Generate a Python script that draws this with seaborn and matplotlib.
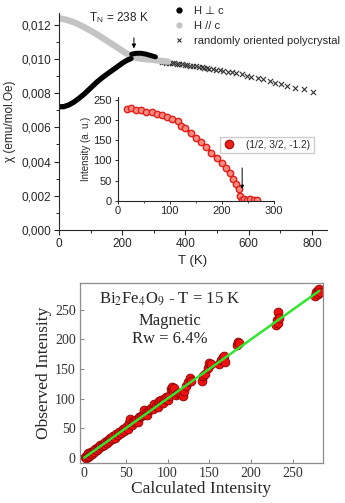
import numpy as np
import pandas as pd
import seaborn as sns
import matplotlib.pyplot as plt
from matplotlib.lines import Line2D
from matplotlib.ticker import MultipleLocator, FuncFormatter

# ---- susceptibility data (chi in 1e-3 emu/mol.Oe) ----
T_par = [0, 25, 50, 75, 100, 125, 150, 175, 200, 225, 250, 275, 300, 325, 345]
chi_par = [12.38, 12.28, 12.12, 11.90, 11.65, 11.38, 11.08, 10.78, 10.48, 10.18,
           10.04, 9.98, 9.94, 9.88, 9.84]

T_perp_lo = [0, 15, 30, 45, 60, 80, 100, 120, 140, 160, 180, 200, 215, 228]
chi_perp_lo = [7.20, 7.21, 7.30, 7.45, 7.65, 7.95, 8.30, 8.65, 8.95, 9.22, 9.48,
               9.75, 9.92, 10.02]
T_perp_hi = [230, 245, 260, 275, 290, 305]
chi_perp_hi = [10.28, 10.33, 10.33, 10.28, 10.20, 10.12]

T_poly = [325, 332, 340, 348, 356, 364, 372, 380, 390, 398, 406, 414, 424, 434,
          444, 452, 460, 468, 476, 486, 496, 508, 520, 536, 548, 560, 580, 594,
          608, 630, 646, 666, 684, 702, 722, 748, 774, 804]
chi_poly = [9.82, 9.80, 9.79, 9.78, 9.76, 9.74, 9.72, 9.70, 9.68, 9.66, 9.64,
            9.61, 9.58, 9.56, 9.53, 9.50, 9.48, 9.46, 9.44, 9.41, 9.38, 9.35,
            9.31, 9.26, 9.22, 9.17, 9.09, 9.02, 8.96, 8.88, 8.80, 8.70, 8.60,
            8.52, 8.43, 8.32, 8.22, 8.08]

# ---- inset: magnetic peak intensity ----
T_peak = [18, 25, 35, 45, 55, 65, 75, 85, 95, 105, 115, 122, 130, 140, 150, 160,
          170, 180, 190, 200, 208, 215, 222, 228, 232, 235, 238, 242, 248, 255,
          262, 268]
I_peak = [228, 229, 226, 224, 221, 219, 216, 212, 208, 203, 197, 185, 180, 167,
          155, 145, 133, 119, 106, 93, 80, 68, 55, 42, 28, 12, 2, 3, 2, 4, 2, 1]

# ---- refinement: calculated vs observed ----
I_calc = [1, 2, 3, 4, 5, 6, 7, 8, 9, 10, 12, 13, 15, 16, 18, 19, 21, 22, 24, 25,
          27, 28, 30, 31, 33, 35, 37, 38, 40, 42, 44, 46, 48, 50, 52, 54, 55, 57,
          58, 60, 62, 64, 66, 68, 70, 72, 74, 75, 78, 80, 82, 84, 86, 88, 90, 92,
          94, 96, 98, 100, 102, 104, 105, 106, 108, 110, 113, 116, 118, 120, 122,
          125, 127, 128, 141, 143, 145, 148, 150, 152, 162, 164, 166, 168, 169,
          183, 185, 186, 230, 231, 232, 233, 234, 277, 278, 280, 281, 282, 283]
I_obs = [2, 0, 5, 1, 8, 3, 6, 10, 7, 12, 10, 14, 13, 18, 16, 22, 20, 24, 22, 27,
         25, 30, 28, 33, 31, 36, 34, 40, 38, 43, 41, 48, 45, 52, 49, 58, 66, 56,
         62, 60, 64, 61, 68, 70, 72, 80, 76, 72, 80, 84, 82, 90, 88, 86, 96, 98,
         92, 100, 102, 98, 104, 116, 120, 112, 118, 106, 110, 108, 104, 112, 122,
         128, 134, 130, 130, 138, 142, 152, 160, 158, 158, 166, 170, 172, 162,
         190, 196, 194, 224, 232, 228, 246, 236, 274, 280, 284, 276, 286, 280]
fit_x = [0, 282]
fit_y = [0, 282]

df_par = pd.DataFrame({"T": T_par, "chi": np.array(chi_par) * 1e-3})
df_lo = pd.DataFrame({"T": T_perp_lo, "chi": np.array(chi_perp_lo) * 1e-3})
df_hi = pd.DataFrame({"T": T_perp_hi, "chi": np.array(chi_perp_hi) * 1e-3})
df_poly = pd.DataFrame({"T": T_poly, "chi": np.array(chi_poly) * 1e-3})
df_peak = pd.DataFrame({"T": T_peak, "I": I_peak})
df_ref = pd.DataFrame({"calc": I_calc, "obs": I_obs})

sns.set_style("ticks")
plt.rcParams['font.family'] = ['Liberation Sans', 'DejaVu Sans']
plt.rcParams['mathtext.fontset'] = 'stix'

fig = plt.figure(figsize=(3.45, 5.03), dpi=100)

# ===== top panel =====
ax = fig.add_axes([0.171, 0.5427, 0.777, 0.432])
sns.lineplot(data=df_par, x="T", y="chi", color="#c4c4c4", lw=4.6, ax=ax, sort=False)
sns.lineplot(data=df_lo, x="T", y="chi", color="black", lw=3.8, ax=ax, sort=False)
sns.lineplot(data=df_hi, x="T", y="chi", color="black", lw=3.6, ax=ax, sort=False)
sns.scatterplot(data=df_poly, x="T", y="chi", marker="x", color="#333333", s=14,
                linewidth=0.8, ax=ax)
ax.set_xlim(0, 848)
ax.set_ylim(0, 0.0127)
ax.xaxis.set_major_locator(MultipleLocator(200))
ax.xaxis.set_minor_locator(MultipleLocator(100))
ax.yaxis.set_major_locator(MultipleLocator(0.002))
ax.yaxis.set_minor_locator(MultipleLocator(0.001))
ax.yaxis.set_major_formatter(FuncFormatter(lambda v, p: f"{v:.3f}".replace('.', ',')))
ax.tick_params(direction='out', labelsize=8.5, length=3.5, width=0.8, pad=2)
ax.tick_params(which='minor', direction='out', length=2, width=0.7)
sns.despine(ax=ax)
ax.set_xlabel("T (K)", fontsize=9.5, labelpad=4)
ax.set_ylabel("χ (emu/mol.Oe)", fontsize=8.5, labelpad=4)

ax.annotate("", xy=(237, 0.01045), xytext=(237, 0.0114),
            arrowprops=dict(arrowstyle="-|>", color="black", lw=0.7, mutation_scale=6))
ax.text(190, 0.0124, "T$_{\\mathregular{N}}$ = 238 K", fontsize=8.5, ha="center", va="center")

handles = [Line2D([], [], ls="", marker="o", color="black", markersize=3.5),
           Line2D([], [], ls="", marker="o", color="#c4c4c4", markersize=3.5),
           Line2D([], [], ls="", marker="x", color="#333333", markersize=3.5, mew=0.8)]
labels = ["H ⊥ c", "H // c", "randomly oriented polycrystal"]
leg = ax.legend(handles, labels, loc="upper left", bbox_to_anchor=(0.503, 0.988),
                bbox_transform=fig.transFigure, frameon=False, fontsize=8,
                handlelength=1.0, handletextpad=0.8, labelspacing=0.45,
                borderpad=0, borderaxespad=0)

# ===== inset =====
axi = fig.add_axes([0.341, 0.601, 0.453, 0.206])
axi.patch.set_alpha(0)
sns.lineplot(data=df_peak, x="T", y="I", color="#e8241a", lw=2.2, marker="o",
             markersize=4.6, markerfacecolor="#ff8a80", markeredgecolor="#e0201a",
             markeredgewidth=1.0, ax=axi)
axi.set_xlim(0, 300)
axi.set_ylim(0, 257)
axi.xaxis.set_major_locator(MultipleLocator(100))
axi.xaxis.set_minor_locator(MultipleLocator(50))
axi.yaxis.set_major_locator(MultipleLocator(50))
axi.tick_params(direction='out', labelsize=8, length=2.5, width=0.7, pad=1.5)
axi.tick_params(which='minor', direction='out', length=1.5, width=0.6)
sns.despine(ax=axi)
axi.set_xlabel("")
axi.set_ylabel("Intensity (a. u.)", fontsize=7, labelpad=2)
axi.annotate("", xy=(239, 22), xytext=(239, 88),
             arrowprops=dict(arrowstyle="-|>", color="black", lw=0.7, mutation_scale=5))
ih = [Line2D([], [], ls="", marker="o", markerfacecolor="#e8241a",
             markeredgecolor="#b01010", markersize=6)]
axi.legend(ih, ["(1/2, 3/2, -1.2)"], loc="upper left", bbox_to_anchor=(0.638, 0.728),
           bbox_transform=fig.transFigure, fontsize=7.3, frameon=True, fancybox=False,
           edgecolor="#cccccc", framealpha=1, handlelength=1.2, handletextpad=1.1,
           borderpad=0.3, borderaxespad=0)

# ===== bottom panel =====
serif = ['Liberation Serif', 'DejaVu Serif']
ax2 = fig.add_axes([0.232, 0.080, 0.703, 0.357])
sns.lineplot(x=fit_x, y=fit_y, color="#2ee62e", lw=1.8, ax=ax2, zorder=3)
sns.scatterplot(data=df_ref, x="calc", y="obs", color="#f01010", edgecolor="#8a0000",
                s=40, linewidth=0.6, ax=ax2, zorder=2)
ax2.set_xlim(-5, 286)
ax2.set_ylim(-8.5, 295)
ax2.xaxis.set_major_locator(MultipleLocator(50))
ax2.yaxis.set_major_locator(MultipleLocator(50))
for s in ax2.spines.values():
    s.set_color("#8c8c8c")
    s.set_linewidth(0.9)
ax2.tick_params(direction='in', length=3, width=0.8, color="#8c8c8c",
                labelcolor="#333333", labelsize=10, pad=3)
for lab in ax2.get_xticklabels() + ax2.get_yticklabels():
    lab.set_family(serif)
ax2.set_xlabel("Calculated Intensity", family=serif, fontsize=12.5, labelpad=1)
ax2.set_ylabel("Observed Intensity", family=serif, fontsize=12.5, labelpad=2)
ax2.text(0.37, 0.91, "Bi$_2$Fe$_4$O$_9$ - T = 15 K", transform=ax2.transAxes,
         family=serif, fontsize=12, ha="center", va="center")
ax2.text(0.37, 0.79, "Magnetic", transform=ax2.transAxes, family=serif,
         fontsize=12, ha="center", va="center")
ax2.text(0.37, 0.69, "Rw = 6.4%", transform=ax2.transAxes, family=serif,
         fontsize=12, ha="center", va="center")

fig.savefig("out.png", dpi=100)
